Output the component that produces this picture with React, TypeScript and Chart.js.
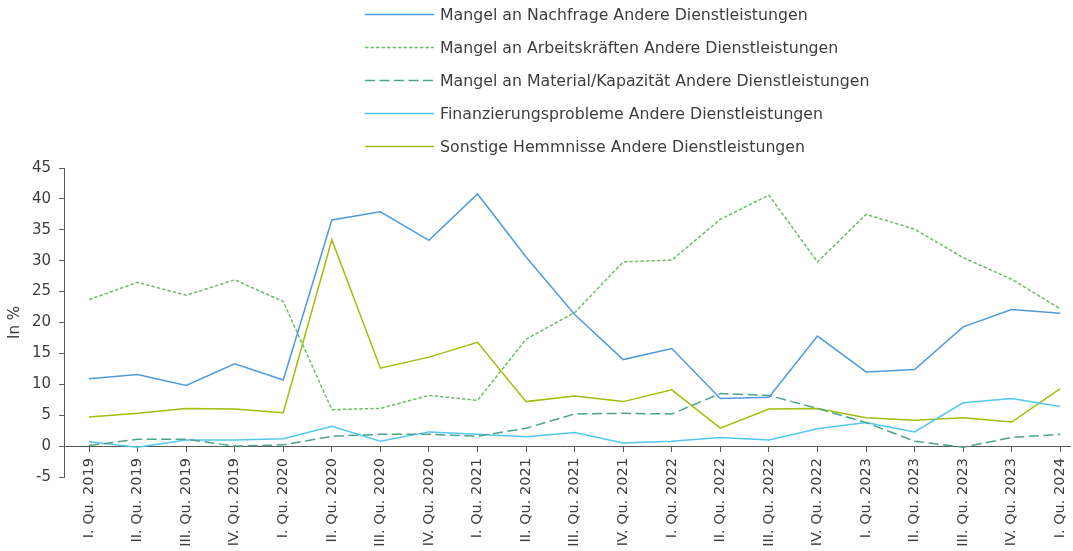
import React, { useEffect, useRef } from "react";
import { Chart, registerables } from "chart.js";

Chart.register(...registerables);

const categories = [
  "I. Qu. 2019", "II. Qu. 2019", "III. Qu. 2019", "IV. Qu. 2019",
  "I. Qu. 2020", "II. Qu. 2020", "III. Qu. 2020", "IV. Qu. 2020",
  "I. Qu. 2021", "II. Qu. 2021", "III. Qu. 2021", "IV. Qu. 2021",
  "I. Qu. 2022", "II. Qu. 2022", "III. Qu. 2022", "IV. Qu. 2022",
  "I. Qu. 2023", "II. Qu. 2023", "III. Qu. 2023", "IV. Qu. 2023",
  "I. Qu. 2024",
];

const nachfrage = [10.9, 11.6, 9.8, 13.3, 10.7, 36.6, 37.9, 33.3, 40.8, 30.6, 21.3, 14.0, 15.8, 7.7, 7.9, 17.8, 12.0, 12.4, 19.3, 22.1, 21.5];
const arbeitskraefte = [23.7, 26.5, 24.4, 26.9, 23.4, 5.9, 6.1, 8.2, 7.4, 17.3, 21.6, 29.8, 30.1, 36.7, 40.6, 29.8, 37.5, 35.1, 30.5, 27.0, 22.2];
const material = [0.1, 1.1, 1.1, 0.0, 0.2, 1.6, 1.9, 1.9, 1.6, 2.9, 5.2, 5.3, 5.2, 8.5, 8.2, 6.1, 3.8, 0.8, -0.2, 1.4, 1.9];
const finanzierung = [0.7, -0.2, 1.0, 1.0, 1.2, 3.2, 0.8, 2.3, 1.9, 1.5, 2.2, 0.5, 0.8, 1.4, 1.0, 2.8, 3.8, 2.3, 7.0, 7.7, 6.4];
const sonstige = [4.7, 5.3, 6.1, 6.0, 5.4, 33.4, 12.6, 14.4, 16.8, 7.2, 8.1, 7.2, 9.1, 2.9, 6.0, 6.1, 4.6, 4.2, 4.6, 3.9, 9.3];

const seriesNames = [
  "Mangel an Nachfrage Andere Dienstleistungen",
  "Mangel an Arbeitskräften Andere Dienstleistungen",
  "Mangel an Material/Kapazität Andere Dienstleistungen",
  "Finanzierungsprobleme Andere Dienstleistungen",
  "Sonstige Hemmnisse Andere Dienstleistungen",
];

const yTicks = { min: -5, max: 45, step: 5 };
const yTitle = "In %";

const FONT = "'DejaVu Sans', sans-serif";
const TEXT = "#3d3d3d";
const AXIS = "#595959";

const toPoints = (arr: number[]) => arr.map((v, i) => ({ x: i, y: v }));

const legendPlugin = {
  id: "stackedLegend",
  afterDraw(chart: any) {
    const ctx = chart.ctx;
    const lineX0 = 365;
    const lineX1 = 434;
    const textX = 440;
    const rowY0 = 14.5;
    const rowGap = 33;
    ctx.save();
    chart.data.datasets.forEach((ds: any, i: number) => {
      const y = rowY0 + i * rowGap;
      ctx.beginPath();
      ctx.setLineDash(ds.borderDash || []);
      ctx.strokeStyle = ds.borderColor;
      ctx.lineWidth = 1.5;
      ctx.moveTo(lineX0, y);
      ctx.lineTo(lineX1, y);
      ctx.stroke();
      ctx.setLineDash([]);
      ctx.fillStyle = TEXT;
      ctx.font = `15.75px ${FONT}`;
      ctx.textBaseline = "middle";
      ctx.textAlign = "left";
      ctx.fillText(ds.label, textX, y + 1);
    });
    ctx.restore();
  },
};

export default function App() {
  const ref = useRef<HTMLCanvasElement | null>(null);

  useEffect(() => {
    if (!ref.current) return;
    const chart = new Chart(ref.current, {
      type: "line",
      data: {
        datasets: [
          { label: seriesNames[0], data: toPoints(nachfrage), borderColor: "#4E9BDD", borderWidth: 1.5, pointRadius: 0, tension: 0 },
          { label: seriesNames[1], data: toPoints(arbeitskraefte), borderColor: "#6DBE66", borderWidth: 1.5, borderDash: [3.5, 2], pointRadius: 0, tension: 0 },
          { label: seriesNames[2], data: toPoints(material), borderColor: "#4BA38A", borderWidth: 1.5, borderDash: [10, 4.5], pointRadius: 0, tension: 0 },
          { label: seriesNames[3], data: toPoints(finanzierung), borderColor: "#52C7F2", borderWidth: 1.5, pointRadius: 0, tension: 0 },
          { label: seriesNames[4], data: toPoints(sonstige), borderColor: "#A2BE0C", borderWidth: 1.5, pointRadius: 0, tension: 0 },
        ],
      },
      options: {
        responsive: false,
        animation: false,
        layout: { padding: { top: 168, right: 3, left: 0, bottom: 74 } },
        plugins: { legend: { display: false }, tooltip: { enabled: false } },
        scales: {
          x: {
            type: "linear",
            position: { y: 0 } as any,
            bounds: "data",
            min: -0.515,
            max: 20.2,
            afterBuildTicks: (s: any) => {
              s.ticks = categories.map((_, i) => ({ value: i }));
            },
            afterFit: (s: any) => {
              s.paddingLeft = 0;
              s.paddingRight = 0;
              s.paddingTop = 0;
              s.paddingBottom = 0;
            },
            grid: { drawOnChartArea: false, drawTicks: true, tickLength: 5, color: AXIS },
            border: { display: true, color: AXIS, width: 1 },
            ticks: {
              autoSkip: false,
              minRotation: 90,
              maxRotation: 90,
              padding: 7,
              color: TEXT,
              font: { family: FONT, size: 14.5 },
              callback: (_v: any, i: number) => categories[i],
            },
          },
          y: {
            min: yTicks.min,
            max: yTicks.max,
            afterFit: (s: any) => {
              s.width = 64;
            },
            grid: { drawOnChartArea: false, drawTicks: true, tickLength: 5, color: AXIS },
            border: { display: true, color: AXIS, width: 1 },
            ticks: { stepSize: yTicks.step, padding: 8, color: TEXT, font: { family: FONT, size: 15 } },
            title: { display: true, text: yTitle, color: TEXT, font: { family: FONT, size: 15 }, padding: { top: 6, bottom: 0 } },
          },
        },
      },
      plugins: [legendPlugin],
    });
    return () => chart.destroy();
  }, []);

  return (
    <div style={{ position: "fixed", left: 0, top: 0, width: 1073, height: 551, background: "#fff" }}>
      <canvas ref={ref} width={1073} height={551} style={{ display: "block" }} />
    </div>
  );
}
